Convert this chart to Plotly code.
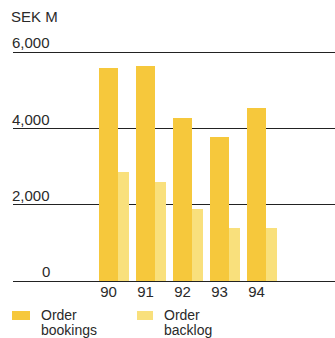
import plotly.graph_objects as go

years = ["90", "91", "92", "93", "94"]
order_bookings = [5600, 5650, 4270, 3780, 4530]
order_backlog = [2850, 2590, 1890, 1400, 1400]
y_ticks = [0, 2000, 4000, 6000]
y_tick_labels = ["0", "2,000", "4,000", "6,000"]
series_names = [["Order", "bookings"], ["Order", "backlog"]]

BOOK_COLOR = "#F6C83C"
BACK_COLOR = "#F9E07C"
TEXT = "#2a2a2a"
LINE = "#222222"
FONT = "Liberation Sans, Arial, sans-serif"

fig = go.Figure()
fig.add_trace(go.Bar(
    x=years, y=order_bookings, name=" ".join(series_names[0]),
    marker=dict(color=BOOK_COLOR, line=dict(width=0)),
    width=0.51, offset=-0.257, showlegend=False,
))
fig.add_trace(go.Bar(
    x=years, y=order_backlog, name=" ".join(series_names[1]),
    marker=dict(color=BACK_COLOR, line=dict(width=0)),
    width=0.30, offset=0.257, showlegend=False,
))

W, H = 335, 338
ml, mr, mt, mb = 13, 0, 50, 57
plot_w = W - ml - mr
plot_h = H - mt - mb


def px(xp):
    return (xp - ml) / plot_w


def py(yp):
    return (H - mb - yp) / plot_h


annotations = []
for v, lab in zip(y_ticks, y_tick_labels):
    annotations.append(dict(
        xref="paper", yref="y", x=px(52), y=v,
        xanchor="right", yanchor="bottom", yshift=-1,
        text=lab, showarrow=False,
        font=dict(family=FONT, size=15, color=TEXT),
    ))
annotations.append(dict(
    xref="paper", yref="paper", x=px(9), y=py(16),
    xanchor="left", yanchor="middle",
    text="SEK M", showarrow=False,
    font=dict(family=FONT, size=15, color=TEXT),
))

shapes = []
legend_items = [(12, 30, 40, BOOK_COLOR), (137, 153, 163, BACK_COLOR)]
for (sx0, sx1, tx, col), lines in zip(legend_items, series_names):
    shapes.append(dict(
        type="rect", xref="paper", yref="paper",
        x0=px(sx0), x1=px(sx1), y0=py(320), y1=py(311),
        fillcolor=col, line=dict(width=0), layer="above",
    ))
    for i, ln in enumerate(lines):
        annotations.append(dict(
            xref="paper", yref="paper", x=px(tx - 1), y=py(314.5 + 15.5 * i),
            xanchor="left", yanchor="middle",
            text=ln, showarrow=False,
            font=dict(family=FONT, size=14, color=TEXT),
        ))

fig.update_layout(
    width=W, height=H,
    margin=dict(l=ml, r=mr, t=mt, b=mb, autoexpand=False),
    paper_bgcolor="white", plot_bgcolor="white",
    barmode="overlay",
    bargap=0,
    showlegend=False,
    xaxis=dict(
        type="category", range=[-2.58, 6.12],
        showgrid=False, zeroline=False, showline=False,
        ticks="", ticklen=0,
        tickfont=dict(family=FONT, size=15, color=TEXT),
    ),
    yaxis=dict(
        range=[0, 6060], tickvals=y_ticks, showticklabels=False,
        showgrid=True, gridcolor=LINE, gridwidth=1.3,
        zeroline=True, zerolinecolor=LINE, zerolinewidth=1.3,
        showline=False,
    ),
    annotations=annotations,
    shapes=shapes,
)

fig.write_html("out.html")
